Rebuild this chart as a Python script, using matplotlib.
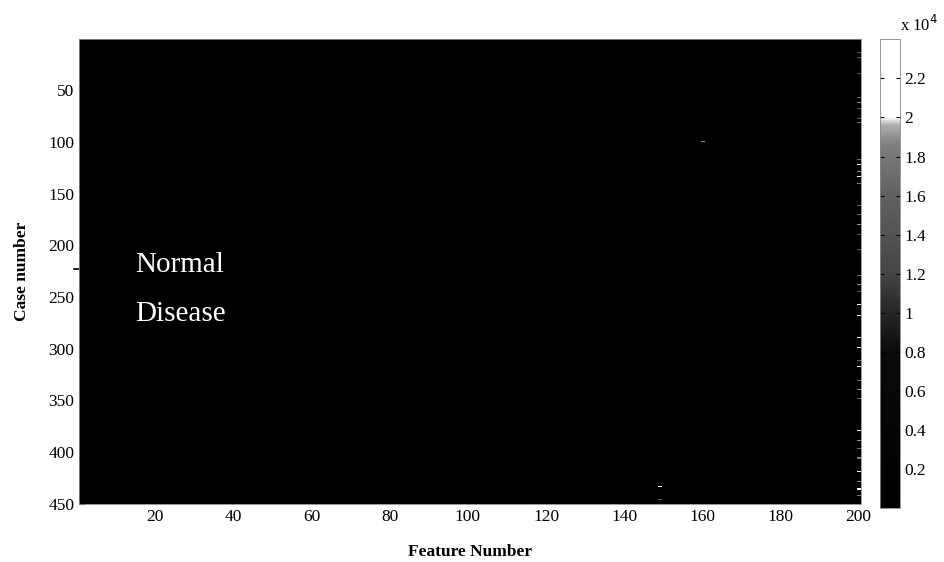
import numpy as np
import matplotlib.pyplot as plt
from matplotlib.colors import LinearSegmentedColormap

# Data: feature matrix is almost all ~0, with a few bright cells
n_cases = 450
n_features = 200

# bright cells in the last feature column (case row, value)
last_col_rows = [14, 18, 34, 57, 62, 68, 77, 81, 117, 122, 129, 134, 140,
                 162, 170, 180, 190, 204, 229, 238, 245, 257, 268, 289, 299,
                 312, 317, 331, 340, 348, 379, 389, 397, 406, 419, 429, 436, 442]
last_col_vals = [1.5e4, 1.6e4, 1.4e4, 1.7e4, 1.9e4, 1.5e4, 1.6e4, 1.8e4, 1.7e4, 2.0e4, 1.9e4, 2.1e4, 1.8e4,
                 1.7e4, 1.8e4, 1.9e4, 1.4e4, 1.6e4, 1.8e4, 1.9e4, 1.5e4, 2.0e4, 2.3e4, 2.3e4, 2.2e4,
                 1.6e4, 2.0e4, 1.8e4, 1.9e4, 1.7e4, 2.1e4, 1.9e4, 1.7e4, 1.8e4, 2.4e4, 1.9e4, 2.0e4, 1.8e4]

# a few isolated cells elsewhere (case row, feature col, value)
spot_rows = [100, 434, 446]
spot_cols = [160, 149, 149]
spot_vals = [1.9e4, 2.1e4, 1.6e4]

cbar_ticks = [2000, 4000, 6000, 8000, 10000, 12000, 14000, 16000, 18000, 20000, 22000]
x_ticks = [20, 40, 60, 80, 100, 120, 140, 160, 180, 200]
y_ticks = [50, 100, 150, 200, 250, 300, 350, 400, 450]

# build matrix
M = np.zeros((n_cases, n_features))
for r, v in zip(last_col_rows, last_col_vals):
    M[r - 1, n_features - 1] = v
for r, c, v in zip(spot_rows, spot_cols, spot_vals):
    M[r - 1, c - 1] = v

# gray map with the contrast of the scanned figure
cmap = LinearSegmentedColormap.from_list('scan_gray', [
    (0.0, (0.0, 0.0, 0.0)), (0.33, (0.04, 0.04, 0.04)), (0.42, (0.15, 0.15, 0.15)),
    (0.5, (0.27, 0.27, 0.27)), (0.67, (0.38, 0.38, 0.38)), (0.78, (0.5, 0.5, 0.5)),
    (0.82, (0.7, 0.7, 0.7)), (0.835, (1, 1, 1)), (1.0, (1, 1, 1))])

plt.rcParams['font.family'] = ['Liberation Serif', 'DejaVu Serif']

fig = plt.figure(figsize=(9.44, 5.62), dpi=100)
ax = fig.add_axes([0.0837, 0.103, 0.828, 0.827])
cax = fig.add_axes([0.932, 0.096, 0.021, 0.834])

im = ax.imshow(M, cmap=cmap, vmin=0, vmax=24000, aspect='auto', interpolation='nearest',
               extent=[0.5, n_features + 0.5, n_cases + 0.5, 0.5])
ax.set_xlim(0.5, n_features + 0.5)
ax.set_ylim(n_cases + 0.5, 0.5)
ax.set_xticks(x_ticks)
ax.set_yticks(y_ticks)
ax.tick_params(direction='in', labelsize=12.5, length=4, color='black')
for s in ax.spines.values():
    s.set_linewidth(0.6)
    s.set_color('#888888')

ax.set_xlabel('Feature Number', fontsize=12.5, fontweight='bold', labelpad=14)
ax.set_ylabel('Case number', fontsize=12.5, fontweight='bold', labelpad=13)

ax.text(15.0, 219, 'Normal', color='white', fontsize=21, ha='left', va='center')
ax.text(15.0, 266, 'Disease', color='white', fontsize=21, ha='left', va='center')
# small marker at the class boundary
ax.plot([-0.8, 0.5], [223, 223], color='black', linewidth=1.2, clip_on=False)

cb = fig.colorbar(im, cax=cax, ticks=cbar_ticks)
cb.ax.set_yticklabels(['%g' % (t / 1e4) for t in cbar_ticks])
cb.ax.tick_params(direction='in', labelsize=12.5, length=3, left=True, right=True)
cb.outline.set_linewidth(0.6)
cb.outline.set_edgecolor('#888888')
fig.text(900 / 944, 1 - 25 / 562, 'x 10$^4$', fontsize=12, ha='left', va='center')

fig.savefig('out.png', dpi=100)
